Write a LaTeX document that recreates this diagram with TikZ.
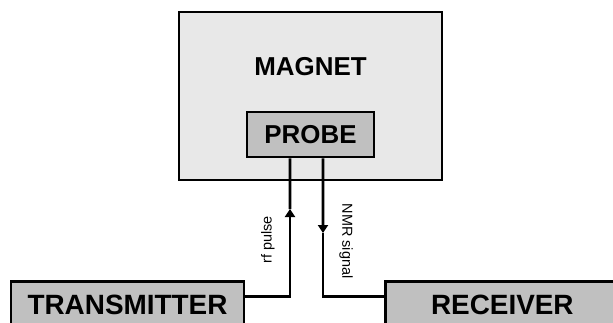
\documentclass[tikz,border=0pt]{standalone}
\usepackage{fontspec}
\setmainfont{Liberation Sans}
\usetikzlibrary{arrows.meta,positioning}
\definecolor{magnetgray}{RGB}{232,232,232}
\definecolor{unitgray}{RGB}{192,192,192}

\begin{document}
\begin{tikzpicture}[x=1bp, y=-1bp, >={Triangle[width=10bp,length=8bp]}]
\tikzset{
  unit/.style={draw, line width=2.8bp, fill=unitgray, inner sep=0pt,
               font=\bfseries\fontsize{26}{30}\selectfont},
  bigunit/.style={unit, minimum width=233bp, minimum height=46bp,
               font=\bfseries\fontsize{28}{32}\selectfont},
  wire/.style={line width=2.8bp},
  tag/.style={font=\fontsize{14.5}{17}\selectfont, inner sep=0pt}
}
\clip (0,0) rectangle (613,322);
\useasboundingbox (0,0) rectangle (613,322);

% magnet with the probe inside
\node[unit, fill=magnetgray, minimum width=263bp, minimum height=168bp] (magnet) at (310.5,96) {};
\node[font=\bfseries\fontsize{26}{30}\selectfont] (magnettext) at (310.5,67) {MAGNET};
\node[unit, minimum width=127bp, minimum height=45bp] (probe) at (310.5,134.5) {PROBE};

% transmitter and receiver, cut by the bottom edge
\node[bigunit] (transmitter) at (127.5,304.5) {TRANSMITTER};
\node[bigunit, right=139bp of transmitter] (receiver) {RECEIVER};

\coordinate (rfmark) at (290,209);
\coordinate (nmrmark) at (323,233);

\draw[wire, ->] ([yshift=-16bp]transmitter.north east) -| (rfmark);
\draw[wire] (rfmark) -- ([xshift=-20.5bp]probe.south);
\draw[wire, ->] ([xshift=12.5bp]probe.south) -- (nmrmark);
\draw[wire] (nmrmark) |- ([yshift=-16bp]receiver.north west);

\node[tag, rotate=90] (rflabel) at (268,240) {rf pulse};
\node[tag, rotate=-90] (nmrlabel) at (346,241) {NMR signal};
\end{tikzpicture}
\end{document}
